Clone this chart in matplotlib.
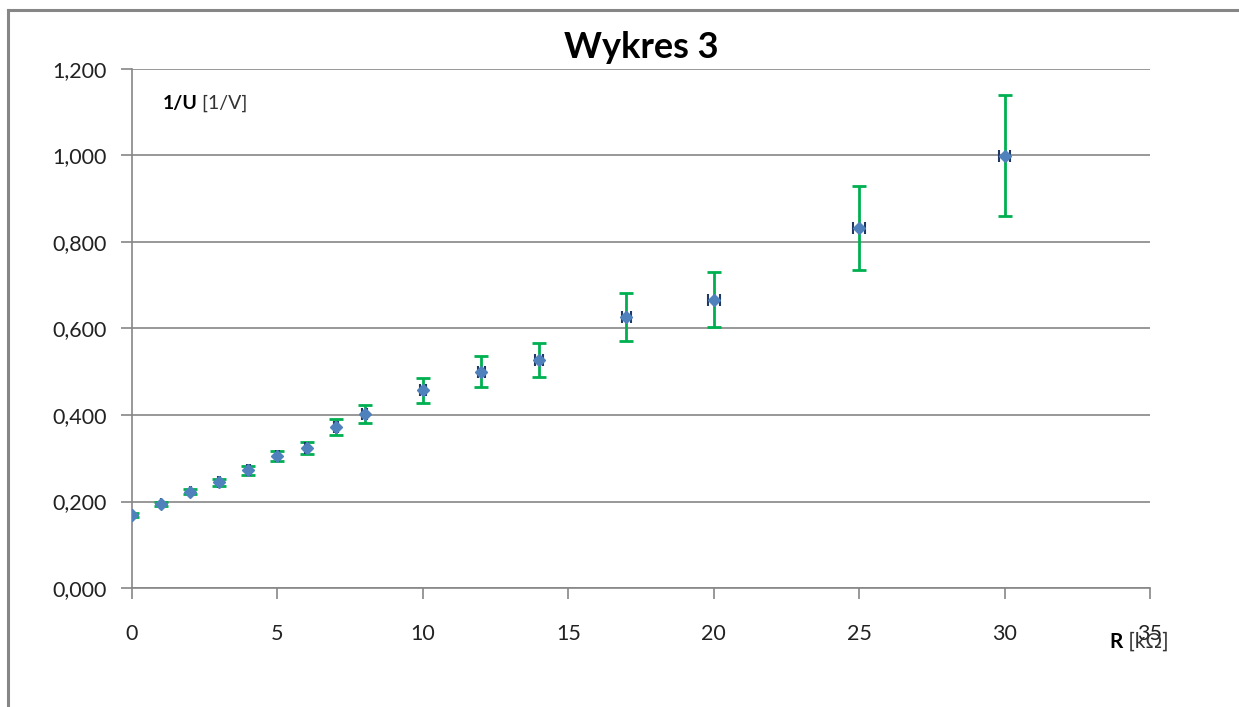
import numpy as np
import matplotlib.pyplot as plt
from matplotlib.ticker import FuncFormatter, MultipleLocator
from matplotlib.lines import Line2D

plt.rcParams['font.family'] = ['Lato', 'DejaVu Sans']

# Data
R = [0, 1, 2, 3, 4, 5, 6, 7, 8, 10, 12, 14, 17, 20, 25, 30]
inv_U = [0.169, 0.194, 0.223, 0.244, 0.272, 0.305, 0.323, 0.372, 0.402,
         0.457, 0.500, 0.527, 0.627, 0.667, 0.833, 1.000]
err_U = [0.004, 0.005, 0.006, 0.008, 0.010, 0.012, 0.014, 0.019, 0.021,
         0.029, 0.036, 0.040, 0.055, 0.064, 0.097, 0.140]
err_R = [0.01, 0.01, 0.02, 0.03, 0.04, 0.05, 0.06, 0.07, 0.08,
         0.10, 0.12, 0.14, 0.17, 0.20, 0.20, 0.20]

grey = '#868686'

fig = plt.figure(figsize=(12.39, 7.07), dpi=100)
ax = fig.add_axes([132/1239, 119/707, 1018/1239, 519/707])

# outer chart frame (only left and top edges are inside the picture)
fx, fy = 8/1239, (707 - 10)/707
fig.add_artist(Line2D([fx, fx], [0, fy], transform=fig.transFigure,
                      color=grey, linewidth=2.2))
fig.add_artist(Line2D([fx, 1], [fy, fy], transform=fig.transFigure,
                      color=grey, linewidth=2.2))

ax.errorbar(R, inv_U, yerr=err_U, fmt='none', ecolor='#00B050',
            elinewidth=2, capsize=5, capthick=2, zorder=3)
ax.errorbar(R, inv_U, xerr=err_R, fmt='none', ecolor='#1F3864',
            elinewidth=1.5, capsize=4, capthick=1.5, zorder=4)
ax.plot(R, inv_U, linestyle='none', marker='D', markersize=6.5,
        color='#4F81BD', zorder=5)

ax.set_xlim(0, 35)
ax.set_ylim(0, 1.2)
ax.xaxis.set_major_locator(MultipleLocator(5))
ax.yaxis.set_major_locator(MultipleLocator(0.2))
ax.yaxis.set_major_formatter(FuncFormatter(lambda v, p: f'{v:.3f}'.replace('.', ',')))

ax.grid(axis='y', color=grey, linewidth=1.2)
ax.set_axisbelow(True)
for s in ['top', 'right']:
    ax.spines[s].set_visible(False)
for s in ['left', 'bottom']:
    ax.spines[s].set_color(grey)
    ax.spines[s].set_linewidth(1.2)
ax.tick_params(direction='out', length=8, width=1.2, color=grey,
               labelsize=15.5, labelcolor='#222222')
ax.tick_params(axis='y', pad=10)
ax.tick_params(axis='x', pad=18)

ax.set_title('Wykres 3', fontsize=26, fontweight='bold', pad=8)

t1 = ax.text(0.030, 0.934, '1/U', transform=ax.transAxes, fontsize=14,
             fontweight='bold', va='center', ha='left')
ax.annotate(' [1/V]', xycoords=t1, xy=(1, 0.5), va='center', ha='left',
            fontsize=14, color='#333333')

t2 = ax.text(0.960, -0.104, 'R', transform=ax.transAxes, fontsize=15,
             fontweight='bold', va='center', ha='left')
ax.annotate(' [kΩ]', xycoords=t2, xy=(1, 0.5), va='center', ha='left',
            fontsize=15, color='#333333')

fig.savefig('out.png', dpi=100)
